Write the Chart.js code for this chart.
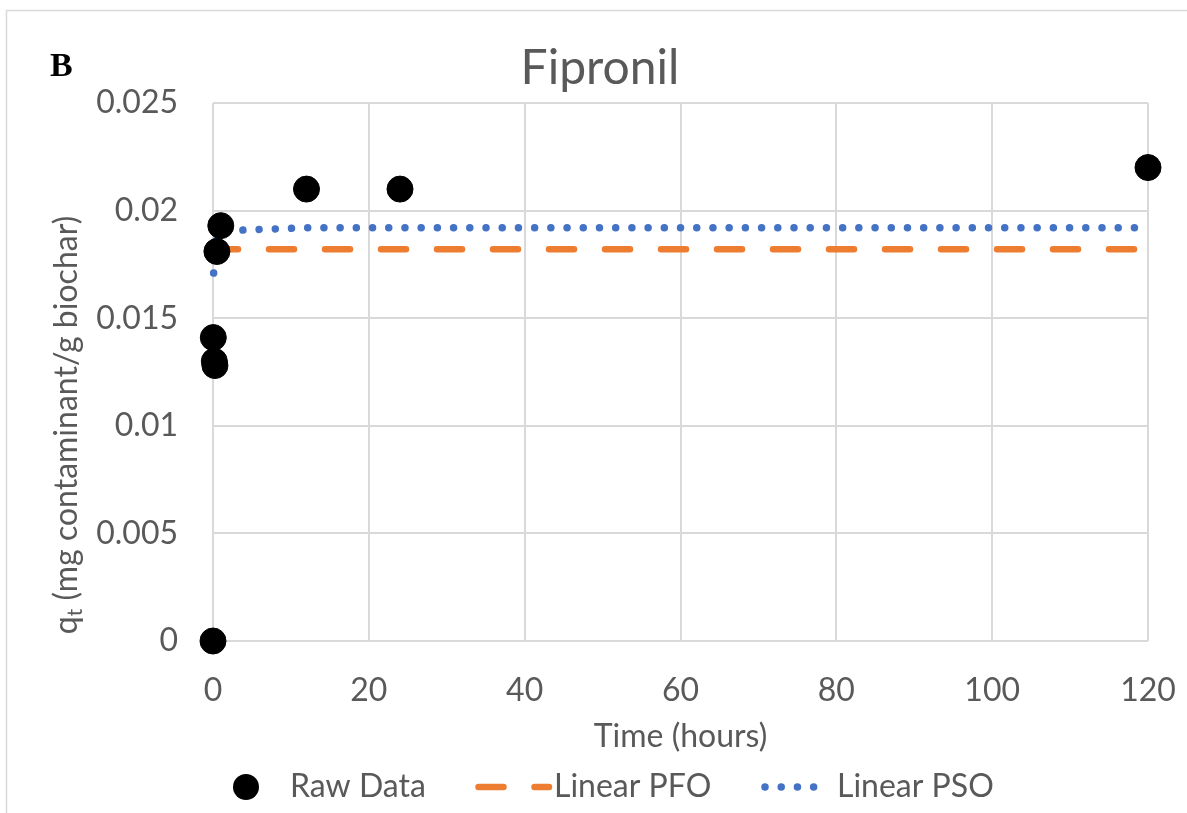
<!DOCTYPE html>
<html>
<head>
<meta charset="utf-8">
<script src="https://cdn.jsdelivr.net/npm/chart.js@4"></script>
<style>
  html, body { margin: 0; padding: 0; background: #fff; }
  #wrap { width: 1187px; height: 813px; }
</style>
</head>
<body>
<div id="wrap"><canvas id="chart" width="1187" height="813"></canvas></div>
<script>
// time in hours, q_t in mg contaminant / g biochar
const rawTimes = [0, 0.04, 0.167, 0.25, 0.5, 1, 12, 24, 120];
const rawValues = [0, 0.0141, 0.0130, 0.0128, 0.0181, 0.0193, 0.0210, 0.0210, 0.0220];

const fitTimes = [0, 0.083, 0.167, 0.25, 0.5, 1, 12, 24, 120];
const pfoValues = [0.0182, 0.0182, 0.0182, 0.0182, 0.0182, 0.0182, 0.0182, 0.0182, 0.0182];
const psoTimes = [0.083, 0.167, 0.25, 0.5, 1, 4, 12, 24, 120];
const psoValues = [0.0171, 0.0180, 0.0184, 0.0188, 0.0190, 0.0191, 0.0192, 0.0192, 0.0192];

const xTickLabels = ["0", "20", "40", "60", "80", "100", "120"];
const yTickLabels = ["0", "0.005", "0.01", "0.015", "0.02", "0.025"];

const chartTitle = "Fipronil";
const xTitle = "Time (hours)";
const seriesNames = ["Raw Data", "Linear PFO", "Linear PSO"];

const font = "Lato, 'Open Sans', sans-serif";
const textColor = "#595959";
const gridColor = "#d9d9d9";

const toPoints = (xs, ys) => xs.map((x, i) => ({ x: x, y: ys[i] }));

// excel-ish extras: panel letter, border, axis titles, legend
const decorations = {
  id: "decorations",
  beforeDraw(chart) {
    const ctx = chart.ctx;
    ctx.save();
    ctx.strokeStyle = gridColor;
    ctx.lineWidth = 1.5;
    ctx.beginPath();
    ctx.moveTo(6.5, 813);
    ctx.lineTo(6.5, 10.5);
    ctx.lineTo(1187, 10.5);
    ctx.stroke();
    ctx.restore();
  },
  afterDraw(chart) {
    const ctx = chart.ctx;
    const area = chart.chartArea;
    ctx.save();

    // panel letter
    ctx.fillStyle = "#000";
    ctx.font = "bold 34px 'Liberation Serif', 'DejaVu Serif', serif";
    ctx.textBaseline = "alphabetic";
    ctx.textAlign = "left";
    ctx.fillText("B", 50, 76);

    // y axis title with subscript t
    ctx.fillStyle = textColor;
    ctx.translate(67, 425);
    ctx.rotate(-Math.PI / 2);
    ctx.textBaseline = "middle";
    const big = "32px " + font, small = "21px " + font;
    const rest = " (mg contaminant/g biochar)";
    ctx.font = big;
    const wq = ctx.measureText("q").width;
    const wr = ctx.measureText(rest).width;
    ctx.font = small;
    const wt = ctx.measureText("t").width;
    let x0 = -(wq + wt + wr) / 2;
    ctx.font = big;
    ctx.textAlign = "left";
    ctx.fillText("q", x0, 0);
    ctx.font = small;
    ctx.fillText("t", x0 + wq, 8);
    ctx.font = big;
    ctx.fillText(rest, x0 + wq + wt, 0);
    ctx.setTransform(1, 0, 0, 1, 0, 0);

    // x axis title
    ctx.font = "32px " + font;
    ctx.textAlign = "center";
    ctx.textBaseline = "middle";
    ctx.fillText(xTitle, (area.left + area.right) / 2, 737);

    // legend
    const ly = 787;
    const ds = chart.data.datasets;
    ctx.fillStyle = "#000";
    ctx.beginPath();
    ctx.arc(246, ly, 13, 0, Math.PI * 2);
    ctx.fill();

    const drawSample = (d, x1, x2) => {
      ctx.strokeStyle = d.borderColor;
      ctx.lineWidth = d.borderWidth;
      ctx.lineCap = "round";
      ctx.setLineDash(d.borderDash);
      ctx.beginPath();
      ctx.moveTo(x1, ly);
      ctx.lineTo(x2, ly);
      ctx.stroke();
      ctx.setLineDash([]);
    };
    drawSample(ds[1], 478.5, 549);
    drawSample(ds[2], 765, 828);

    ctx.fillStyle = textColor;
    ctx.font = "32px " + font;
    ctx.textAlign = "left";
    ctx.fillText(seriesNames[0], 290, ly);
    ctx.fillText(seriesNames[1], 554, ly);
    ctx.fillText(seriesNames[2], 837, ly);
    ctx.restore();
  }
};

const ctx = document.getElementById("chart");

new Chart(ctx, {
  type: "scatter",
  data: {
    datasets: [{
      label: seriesNames[0],
      data: toPoints(rawTimes, rawValues),
      backgroundColor: "#000",
      borderColor: "#000",
      pointRadius: 13,
      pointHoverRadius: 13,
      showLine: false,
      clip: false
    }, {
      label: seriesNames[1],
      type: "line",
      data: toPoints(fitTimes, pfoValues),
      borderColor: "#ED7D31",
      borderWidth: 6.5,
      borderDash: [25, 31],
      borderCapStyle: "round",
      pointRadius: 0,
      fill: false,
      tension: 0,
      clip: false
    }, {
      label: seriesNames[2],
      type: "line",
      data: toPoints(psoTimes, psoValues),
      borderColor: "#4472C4",
      borderWidth: 7.5,
      borderDash: [0.01, 16.2],
      borderCapStyle: "round",
      borderJoinStyle: "round",
      pointRadius: 0,
      fill: false,
      tension: 0,
      clip: false
    }]
  },
  options: {
    responsive: false,
    animation: false,
    layout: { padding: { left: 52, right: 39, top: 0, bottom: 0 } },
    plugins: {
      legend: { display: false },
      tooltip: { enabled: false },
      title: {
        display: true,
        text: chartTitle,
        color: textColor,
        font: { family: font, size: 48, weight: "normal", lineHeight: 1.2 },
        padding: { top: 40, bottom: 5.4 }
      }
    },
    scales: {
      x: {
        type: "linear",
        min: 0,
        max: 120,
        afterFit(scale) {
          scale.height = 172;
          scale.paddingLeft = 0;
          scale.paddingRight = 0;
        },
        afterBuildTicks(scale) {
          scale.ticks = xTickLabels.map(v => ({ value: Number(v) }));
        },
        ticks: {
          color: textColor,
          font: { family: font, size: 32 },
          padding: 30,
          maxRotation: 0,
          callback: (v, i) => xTickLabels[i]
        },
        grid: { color: gridColor, lineWidth: 2, drawTicks: false },
        border: { display: false }
      },
      y: {
        type: "linear",
        min: 0,
        max: 0.025,
        afterFit(scale) { scale.width = 161; },
        afterBuildTicks(scale) {
          scale.ticks = yTickLabels.map(v => ({ value: Number(v) }));
        },
        ticks: {
          color: textColor,
          font: { family: font, size: 32 },
          padding: 35,
          callback: (v, i) => yTickLabels[i]
        },
        grid: { color: gridColor, lineWidth: 2, drawTicks: false },
        border: { display: false }
      }
    }
  },
  plugins: [decorations]
});
</script>
</body>
</html>
